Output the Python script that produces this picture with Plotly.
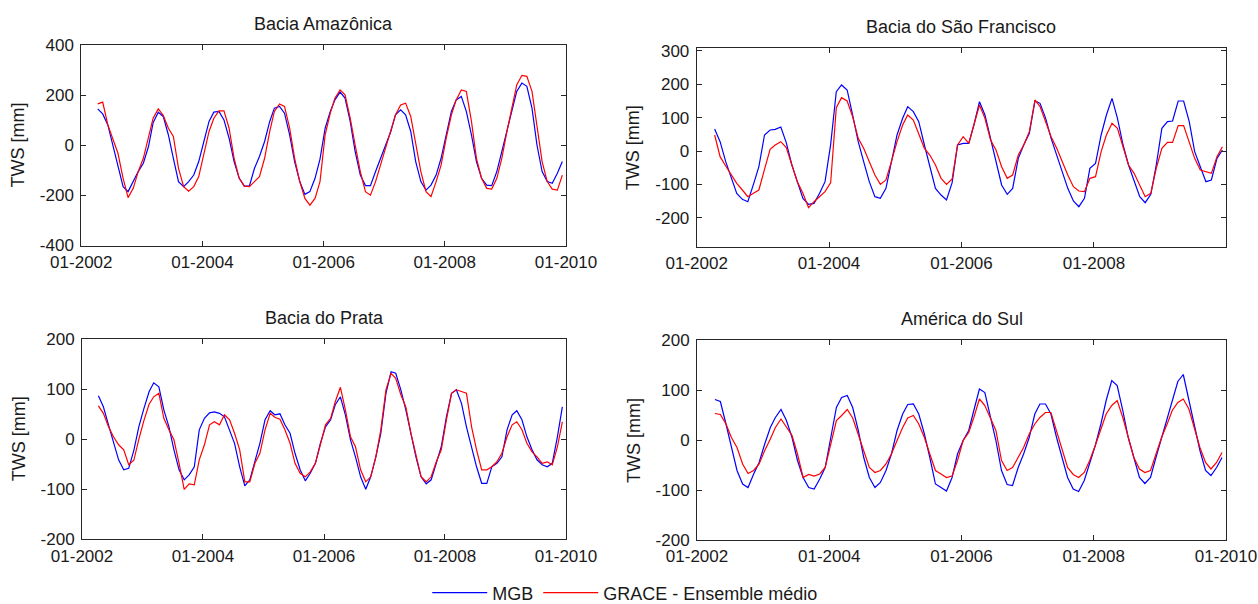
import pandas as pd
import plotly.graph_objects as go

# Monthly time axis: 04-2002 .. 12-2009 (93 months)
months = pd.date_range("2002-04-01", "2009-12-01", freq="MS") + pd.Timedelta(days=9)

# ---- Bacia Amazônica ----
amz_mgb = [145, 125, 81, 0, -79, -165, -185, -145, -105, -72,
           -5, 90, 132, 115, 41, -52, -145, -165, -145, -119,
           -65, 15, 95, 132, 135, 101, 28, -65, -132, -163,
           -163, -92, -45, 15, 95, 148, 155, 128, 41, -65,
           -145, -196, -185, -132, -55, 68, 135, 181, 212, 188,
           95, -25, -119, -161, -161, -105, -52, 1, 55, 121,
           141, 121, 55, -65, -145, -179, -159, -119, -52, 41,
           135, 181, 195, 135, 41, -65, -132, -159, -161, -105,
           -25, 55, 148, 215, 248, 235, 148, 1, -105, -145,
           -152, -112, -65]
amz_grace = [165, 172, 81, 28, -32, -132, -209, -172, -105, -52,
             28, 108, 145, 120, 68, 35, -92, -165, -183, -165,
             -125, -39, 55, 108, 137, 137, 68, -52, -132, -163,
             -165, -145, -125, -52, 55, 135, 165, 155, 68, -52,
             -145, -212, -239, -212, -145, 41, 128, 188, 221, 201,
             108, 1, -105, -185, -199, -145, -79, -5, 55, 121,
             161, 168, 115, 1, -105, -185, -205, -145, -79, 28,
             121, 181, 221, 215, 95, -52, -132, -172, -175, -132,
             -52, 55, 161, 241, 279, 275, 215, 81, -65, -145,
             -175, -179, -119]

# ---- Bacia do São Francisco ----
sf_mgb = [66, 28, -32, -82, -127, -145, -152, -100, -47, 48,
          63, 65, 72, 25, -42, -92, -142, -160, -157, -127,
          -92, 20, 178, 198, 183, 108, 28, -32, -92, -137,
          -142, -112, -32, 48, 98, 133, 118, 88, 18, -42,
          -112, -132, -147, -95, 18, 23, 23, 78, 148, 108,
          38, -32, -102, -130, -112, -22, 18, 53, 150, 143,
          98, 38, -12, -62, -112, -150, -167, -142, -52, -37,
          48, 108, 158, 98, 18, -42, -92, -137, -155, -130,
          -42, 68, 88, 90, 150, 150, 88, -2, -47, -92,
          -87, -22, 3]
sf_grace = [48, -17, -45, -72, -97, -117, -137, -127, -117, -55,
            5, 18, 28, 10, -40, -92, -127, -170, -152, -137,
            -122, -95, 130, 160, 150, 103, 38, 8, -32, -72,
            -100, -87, -32, 28, 78, 108, 93, 48, 8, -12,
            -42, -82, -100, -84, 18, 43, 23, 78, 138, 98,
            33, 3, -47, -82, -72, -12, 18, 58, 153, 133,
            88, 43, 8, -32, -72, -107, -120, -122, -82, -77,
            -2, 48, 83, 68, 8, -42, -67, -102, -137, -127,
            -52, 8, 26, 26, 76, 76, 28, -22, -57, -62,
            -67, -17, 13]

# ---- Bacia do Prata ----
pr_mgb = [87, 65, 29, -8, -41, -61, -58, -22, 25, 62,
          95, 113, 105, 59, 25, -21, -61, -81, -71, -55,
          19, 42, 53, 55, 52, 45, 19, -8, -55, -93,
          -81, -41, -8, 39, 57, 49, 51, 29, 12, -28,
          -61, -83, -68, -48, -8, 25, 39, 69, 85, 49,
          -1, -35, -75, -100, -75, -35, 12, 92, 135, 132,
          99, 59, 12, -35, -75, -89, -81, -48, -15, 45,
          92, 99, 72, 25, -15, -55, -88, -88, -55, -48,
          -35, 19, 49, 57, 39, 5, -21, -41, -51, -55,
          -48, 5, 65]
pr_grace = [67, 52, 25, 5, -11, -21, -51, -42, 0, 38,
            70, 85, 92, 42, 19, -1, -48, -100, -89, -91,
            -41, -11, 29, 35, 29, 49, 39, 12, -21, -85,
            -85, -48, -28, 19, 52, 44, 40, 19, -8, -48,
            -68, -75, -65, -48, -11, 29, 42, 75, 104, 59,
            5, -15, -61, -85, -75, -35, 19, 99, 132, 122,
            89, 65, 12, -28, -75, -85, -75, -45, -21, 39,
            92, 99, 95, 92, 25, -21, -61, -61, -55, -45,
            -28, 5, 29, 35, 19, -8, -25, -35, -48, -45,
            -51, -15, 35]

# ---- América do Sul ----
sa_mgb = [81, 77, 32, -15, -61, -88, -95, -68, -45, -8,
          25, 45, 61, 39, 5, -41, -75, -95, -98, -78,
          -55, 5, 65, 85, 89, 65, 19, -35, -75, -95,
          -85, -61, -28, 19, 52, 71, 72, 52, 12, -35,
          -88, -95, -102, -75, -28, -1, 19, 59, 102, 95,
          45, -1, -61, -89, -91, -55, -28, 5, 52, 72,
          72, 52, 5, -35, -75, -98, -103, -81, -48, -11,
          32, 79, 119, 109, 59, 5, -35, -75, -87, -75,
          -35, 5, 45, 79, 117, 131, 79, 25, -21, -61,
          -71, -55, -35]
sa_grace = [53, 51, 32, 5, -15, -48, -67, -61, -48, -21,
            2, 25, 42, 25, 9, -28, -75, -69, -72, -68,
            -55, -8, 39, 49, 61, 44, 12, -21, -55, -65,
            -61, -48, -28, -1, 25, 44, 49, 32, 5, -28,
            -61, -68, -75, -72, -41, -1, 15, 45, 82, 69,
            45, 19, -41, -61, -55, -35, -15, 12, 32, 45,
            55, 55, 19, -15, -55, -69, -75, -65, -41, -11,
            22, 52, 69, 79, 45, 5, -35, -58, -65, -61,
            -28, 5, 32, 59, 75, 82, 62, 25, -15, -45,
            -58, -45, -25]

titles = ["Bacia Amazônica", "Bacia do São Francisco", "Bacia do Prata", "América do Sul"]
series_names = ["MGB", "GRACE - Ensemble médio"]
xtick_dates = ["2002-01-01", "2004-01-01", "2006-01-01", "2008-01-01", "2010-01-01"]
xtick_labels = ["01-2002", "01-2004", "01-2006", "01-2008", "01-2010"]
ytick_amz = [-400, -200, 0, 200, 400]
ytick_sf = [-200, -100, 0, 100, 200, 300]
ytick_small = [-200, -100, 0, 100, 200]
y_label = "TWS [mm]"

W, H = 1258, 604
FONT = "Liberation Sans, Arial, sans-serif"
TXT = "#1a1a1a"
AX = "#262626"

def px_x(p):
    return p / W

def px_y(p):
    return 1 - p / H

# panel boxes in pixels: left, right, top, bottom
boxes = [
    (81.3, 566, 45, 245.5),
    (696.7, 1225.5, 48.3, 246.7),
    (82, 566, 339.3, 539.3),
    (697, 1226, 340, 540),
]
yranges = [[-400, 400], [-287, 308], [-200, 200], [-200, 200]]
yticks = [ytick_amz, ytick_sf, ytick_small, ytick_small]
xranges = [["2002-01-01", "2010-01-01"], ["2002-01-01", "2009-12-27"],
           ["2002-01-01", "2010-01-01"], ["2002-01-01", "2010-01-01"]]
data = [(amz_mgb, amz_grace), (sf_mgb, sf_grace), (pr_mgb, pr_grace), (sa_mgb, sa_grace)]
colors = ["#0000ff", "#ff0000"]

fig = go.Figure()
layout = {}
annotations = []
for i in range(4):
    sfx = "" if i == 0 else str(i + 1)
    xa, ya = "x" + sfx, "y" + sfx
    for j in range(2):
        fig.add_trace(go.Scatter(
            x=months, y=data[i][j], mode="lines", name=series_names[j],
            line=dict(color=colors[j], width=1.2), xaxis=xa, yaxis=ya,
            showlegend=(i == 0), legendgroup=series_names[j],
            hoverinfo="skip"))
    l, r, t, b = boxes[i]
    common = dict(showline=True, linecolor=AX, linewidth=1, mirror="ticks",
                  ticks="inside", ticklen=5, tickcolor=AX, tickwidth=1,
                  showgrid=False, zeroline=False,
                  tickfont=dict(family=FONT, size=17, color=TXT))
    layout["xaxis" + sfx] = dict(common, domain=[px_x(l), px_x(r)], anchor=ya,
                                 type="date", range=xranges[i],
                                 tickmode="array", tickvals=xtick_dates,
                                 ticktext=xtick_labels, ticklabelstandoff=1)
    layout["yaxis" + sfx] = dict(common, domain=[px_y(b), px_y(t)], anchor=xa,
                                 range=yranges[i], tickmode="array",
                                 tickvals=yticks[i],
                                 ticktext=[str(v) for v in yticks[i]],
                                 ticklabelstandoff=3)
    # title
    annotations.append(dict(text=titles[i], xref="paper", yref="paper",
                            x=px_x((l + r) / 2), y=px_y(t - 21), xanchor="center",
                            yanchor="middle", showarrow=False,
                            font=dict(family=FONT, size=18, color=TXT)))
    # y label
    annotations.append(dict(text=y_label, xref="paper", yref="paper",
                            x=px_x(l - 63), y=px_y((t + b) / 2), xanchor="center",
                            yanchor="middle", textangle=-90, showarrow=False,
                            font=dict(family=FONT, size=18, color=TXT)))

fig.update_layout(**layout)
fig.update_layout(
    width=W, height=H, autosize=False,
    margin=dict(l=0, r=0, t=0, b=0, pad=0, autoexpand=False),
    paper_bgcolor="white", plot_bgcolor="white",
    annotations=annotations,
    showlegend=True,
    legend=dict(orientation="h", x=0.497, xanchor="center", y=px_y(593),
                yanchor="middle", font=dict(family=FONT, size=18, color=TXT),
                bgcolor="rgba(0,0,0,0)", itemwidth=55, tracegroupgap=0),
    font=dict(family=FONT, color=TXT),
)

fig.write_html(
    "out.html",
    config={"displayModeBar": False},
    post_script="document.body.style.margin='0';document.body.style.overflow='hidden';",
)
